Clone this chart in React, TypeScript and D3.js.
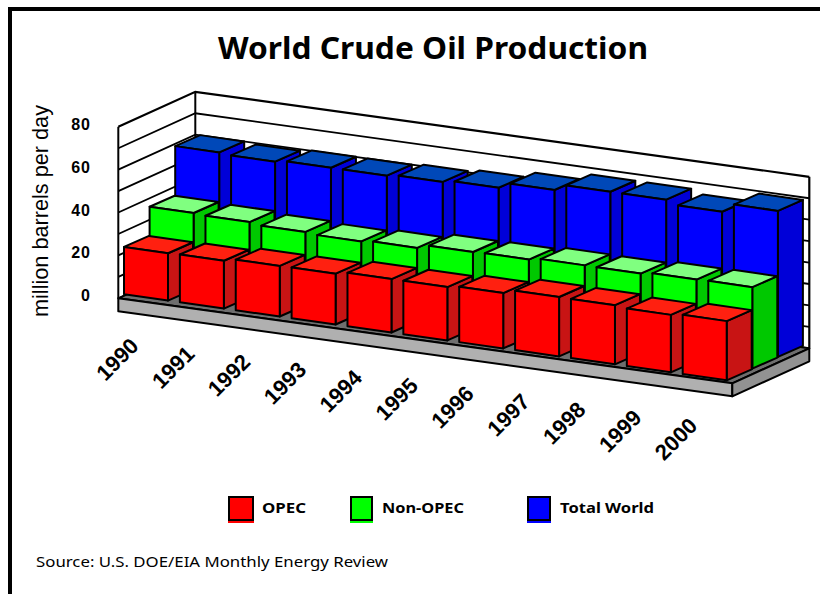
import React from "react";
import * as d3 from "d3";

const years = ["1990","1991","1992","1993","1994","1995","1996","1997","1998","1999","2000"];
const opec = [22.1,22.3,23.6,23.7,24.9,24.9,25.8,27.7,27.6,26.8,27.6];
const nonOpec = [35.4,34.9,34.0,33.3,34.0,35.8,36.0,37.0,36.9,37.8,38.0];
const totalWorld = [58.2,57.6,58.5,58.5,59.3,60.3,63.0,65.9,65.9,64.0,68.1];
const yTicks = [0,20,40,60,80];
const gridValues = [0,10,20,30,40,50,60,70,80];

const seriesList = [
  { name: "Total World", values: totalWorld, row: 2, front: "#0000ff", side: "#0000d8", top: "#0048b8" },
  { name: "Non-OPEC", values: nonOpec, row: 1, front: "#00ff00", side: "#00c800", top: "#80ff80" },
  { name: "OPEC", values: opec, row: 0, front: "#ff0000", side: "#c81414", top: "#ff2010" },
];
const legendItems = [
  { name: "OPEC", color: "#ff0000", x: 228, w: 26, tx: 262, tw: 44 },
  { name: "Non-OPEC", color: "#00ff00", x: 350, w: 23, tx: 382, tw: 82 },
  { name: "Total World", color: "#0000ff", x: 527, w: 24, tx: 560, tw: 94 },
];

// oblique projection
const h = d3.scaleLinear().domain([0, 80]).range([0, 171.5]);
const floorX = d3.scaleLinear().domain([0, 11]).range([118.3, 732.3]);
const floorY = d3.scaleLinear().domain([0, 11]).range([298.3, 383.3]);
const depth = { x: 77, y: -35 };
const barX = d3.scaleLinear().domain([0, 10]).range([124, 682.7]);
const barY = d3.scaleLinear().domain([0, 10]).range([294.3, 374]);
const rowStep = { x: 25.6, y: -11.7 };
const barW = { x: 44, y: 6.3 };
const barD = { x: 25, y: -11 };

const pts = (a: number[][]) => a.map((p) => p.join(",")).join(" ");
const stroke = { stroke: "#000", strokeWidth: 2, strokeLinejoin: "round" as const };

function Bar({ i, row, value, s }: any) {
  const x = barX(i) + row * rowStep.x;
  const y = barY(i) + row * rowStep.y;
  const t = h(value);
  const fl = [x, y - t];
  const fr = [x + barW.x, y + barW.y - t];
  const br = [fr[0] + barD.x, fr[1] + barD.y];
  const bl = [fl[0] + barD.x, fl[1] + barD.y];
  const frb = [x + barW.x, y + barW.y];
  const brb = [frb[0] + barD.x, frb[1] + barD.y];
  const flb = [x, y];
  return (
    <g {...stroke}>
      <polygon points={pts([fr, br, brb, frb])} fill={s.side} />
      <polygon points={pts([fl, fr, br, bl])} fill={s.top} />
      <polygon points={pts([fl, fr, frb, flb])} fill={s.front} />
    </g>
  );
}

export default function App() {
  const fl = [floorX(0), floorY(0)];
  const fr = [floorX(11), floorY(11)];
  const bl = [fl[0] + depth.x, fl[1] + depth.y];
  const br = [fr[0] + depth.x, fr[1] + depth.y];
  const slab = 13;
  const H = h(80);
  return (
    <svg width={820} height={594} style={{ position: "fixed", left: 0, top: 0, display: "block", background: "#fff" }}>
      <rect x={10} y={9} width={830} height={620} fill="none" stroke="#000" strokeWidth={4} />
      <text x={433} y={59} textAnchor="middle" fontFamily="'Noto Sans'" fontWeight={700} fontSize={30} textLength={430} lengthAdjust="spacingAndGlyphs">World Crude Oil Production</text>

      {/* walls */}
      <polygon points={pts([[fl[0], fl[1] - H], [bl[0], bl[1] - H], [br[0], br[1] - H], br, bl, fl])} fill="#fff" />
      {gridValues.map((v) => (
        <polyline key={v} points={pts([[fl[0], fl[1] - h(v)], [bl[0], bl[1] - h(v)], [br[0], br[1] - h(v)]])} fill="none" stroke="#000" strokeWidth={v === 80 ? 2.2 : 1.8} />
      ))}
      <line x1={fl[0]} y1={fl[1]} x2={fl[0]} y2={fl[1] - H} stroke="#000" strokeWidth={2} />
      <line x1={bl[0]} y1={bl[1]} x2={bl[0]} y2={bl[1] - H} stroke="#000" strokeWidth={2} />
      <line x1={br[0]} y1={br[1]} x2={br[0]} y2={br[1] - H} stroke="#000" strokeWidth={2.2} />

      {/* floor slab */}
      <g {...stroke} strokeWidth={2}>
        <polygon points={pts([fl, fr, br, bl])} fill="#6e6e6e" />
        <polygon points={pts([fl, fr, [fr[0], fr[1] + slab], [fl[0], fl[1] + slab]])} fill="#b0b0b0" />
        <polygon points={pts([fr, br, [br[0], br[1] + slab], [fr[0], fr[1] + slab]])} fill="#929292" />
      </g>

      {seriesList.map((s) => (
        <g key={s.name}>
          {s.values.map((v, i) => (
            <Bar key={i} i={i} row={s.row} value={v} s={s} />
          ))}
        </g>
      ))}

      {yTicks.map((t) => (
        <text key={t} x={91} y={fl[1] - h(t) + 3} textAnchor="end" fontFamily="'Liberation Sans'" fontWeight={700} fontSize={16} letterSpacing={1}>{t}</text>
      ))}
      <text transform="translate(48,211) rotate(-90)" textAnchor="middle" fontFamily="'Liberation Sans'" fontSize={22} textLength={212} lengthAdjust="spacingAndGlyphs">million barrels per day</text>

      {years.map((y, i) => (
        <text key={y} transform={`translate(${barX(i) + 16},${barY(i) + 53}) rotate(-45)`} textAnchor="end" fontFamily="'Liberation Sans'" fontWeight={700} fontSize={22}>{y}</text>
      ))}

      {legendItems.map((l) => (
        <g key={l.name}>
          <rect x={l.x} y={499} width={l.w} height={24} fill={l.color} />
          <rect x={l.x + 1} y={497} width={l.w - 2} height={23} fill={l.color} stroke="#000" strokeWidth={2} />
          <text x={l.tx} y={513} fontFamily="'Noto Sans'" fontWeight={700} fontSize={14.5} textLength={l.tw} lengthAdjust="spacingAndGlyphs">{l.name}</text>
        </g>
      ))}
      <text x={36} y={567} fontFamily="'Noto Sans'" fontSize={15} textLength={352} lengthAdjust="spacingAndGlyphs">Source: U.S. DOE/EIA Monthly Energy Review</text>
    </svg>
  );
}
